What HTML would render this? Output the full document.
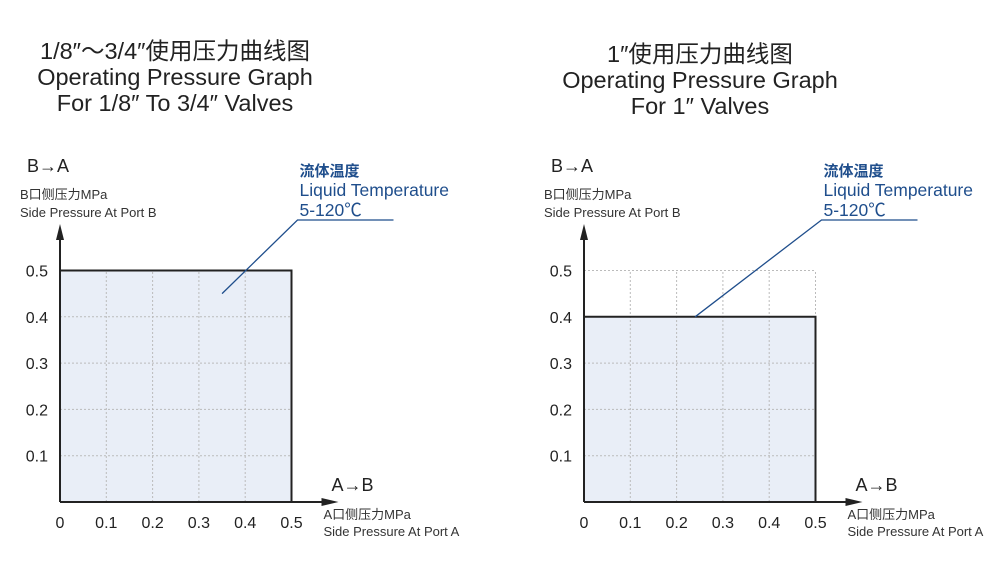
<!DOCTYPE html>
<html><head><meta charset="utf-8"><style>
body{margin:0;background:#fff;width:1001px;height:560px;overflow:hidden}
svg text{font-family:"Liberation Sans","Noto Sans CJK SC",sans-serif}
</style></head><body>
<svg id="s" width="1001" height="560" xmlns="http://www.w3.org/2000/svg"></svg>
<script>
const ticks=[0.1,0.2,0.3,0.4,0.5];
const xTickLabels=["0","0.1","0.2","0.3","0.4","0.5"];
const yTickLabels=["0.1","0.2","0.3","0.4","0.5"];
const maxA=[0.5,0.5];
const maxB=[0.5,0.4];
const titles=[["1/8″～3/4″使用压力曲线图","Operating Pressure Graph","For 1/8″ To 3/4″ Valves"],["1″使用压力曲线图","Operating Pressure Graph","For 1″  Valves"]];
const leadA=[0.35,0.24];
const leadB=[0.45,0.4];
const charts=[{ox:60,cx:175,ty:59},{ox:584,cx:700,ty:62}];
const NS="http://www.w3.org/2000/svg",svg=document.getElementById('s');
const oy=502,k=463;
function el(t,a,p){const e=document.createElementNS(NS,t);for(const q in a)e.setAttribute(q,a[q]);(p||svg).appendChild(e);return e}
function tx(x,y,s,a,p){const e=el('text',Object.assign({x:x,y:y},a),p);e.textContent=s;return e}
charts.forEach((c,i)=>{
  const g=el('g',{});
  
  
  const X=v=>c.ox+v*k, Y=v=>oy-v*k;
  titles[i].forEach((t,j)=>{const e=tx(c.cx,c.ty+j*26,t,{'font-size':23.5,'text-anchor':'middle',fill:'#222'},g);
    
    });
  const r=el('rect',{x:X(0),y:Y(maxB[i]),width:X(maxA[i])-X(0),height:Y(0)-Y(maxB[i]),fill:'#e9eef7'},g);
  
  
  ticks.forEach(t=>{
    const gx=el('line',{x1:X(t),y1:Y(0),x2:X(t),y2:Y(0.5),stroke:'#bbb','stroke-dasharray':'2,2','stroke-width':1},g);
    
    
    const gy=el('line',{x1:X(0),y1:Y(t),x2:X(0.5),y2:Y(t),stroke:'#bbb','stroke-dasharray':'2,2','stroke-width':1},g);
    
    
  });
  const b=el('path',{d:`M${X(0)} ${Y(maxB[i])}H${X(maxA[i])}V${Y(0)}`,fill:'none',stroke:'#222','stroke-width':2},g);
  
  
  const ya=el('path',{d:`M${X(0)} ${oy}V232`,stroke:'#222','stroke-width':2,fill:'none'},g);
  
  
  el('path',{d:`M${X(0)} 224l-4 16h8z`,fill:'#222'},g);
  const xa=el('path',{d:`M${X(0)} ${oy}H${X(0.5)+38}`,stroke:'#222','stroke-width':2},g);
  
  
  el('path',{d:`M${X(0.5)+47} ${oy}l-17 -4v8z`,fill:'#222'},g);
  xTickLabels.forEach((s,j)=>{const e=tx(X(j/10),528,s,{'font-size':16,'text-anchor':'middle',fill:'#222'},g);
    
    });
  yTickLabels.forEach((s,j)=>{const e=tx(X(0)-12,Y((j+1)/10)+6,s,{'font-size':16,'text-anchor':'end',fill:'#222'},g);
    
    });
  const yt=el('g',{},g);
  
  
  tx(X(0)-33,172,'B→A',{'font-size':18,fill:'#222'},yt);
  tx(X(0)-40,199,'B口侧压力MPa',{'font-size':13,fill:'#333'},yt);
  tx(X(0)-40,217,'Side Pressure At Port B',{'font-size':13,fill:'#333'},yt);
  const xt=el('g',{},g);
  
  
  tx(X(0.5)+40,491,'A→B',{'font-size':18,fill:'#222'},xt);
  tx(X(0.5)+32,519,'A口侧压力MPa',{'font-size':13,fill:'#333'},xt);
  tx(X(0.5)+32,536,'Side Pressure At Port A',{'font-size':13,fill:'#333'},xt);
  const ax=X(0.5)+6, lx=X(leadA[i]), ly=Y(leadB[i]);
  const ld=el('path',{d:`M${lx} ${ly}L${ax} 220H${ax+96}`,fill:'none',stroke:'#1f4e8c','stroke-width':1.3},g);
  
  
  const an=el('g',{},g);
  
  
  tx(ax+2,176,'流体温度',{'font-size':15,fill:'#1f4e8c','font-weight':'bold'},an);
  tx(ax+2,196,'Liquid Temperature',{'font-size':17.5,fill:'#1f4e8c'},an);
  tx(ax+2,216,'5-120℃',{'font-size':17.5,fill:'#1f4e8c'},an);
});
</script>
</body></html>
